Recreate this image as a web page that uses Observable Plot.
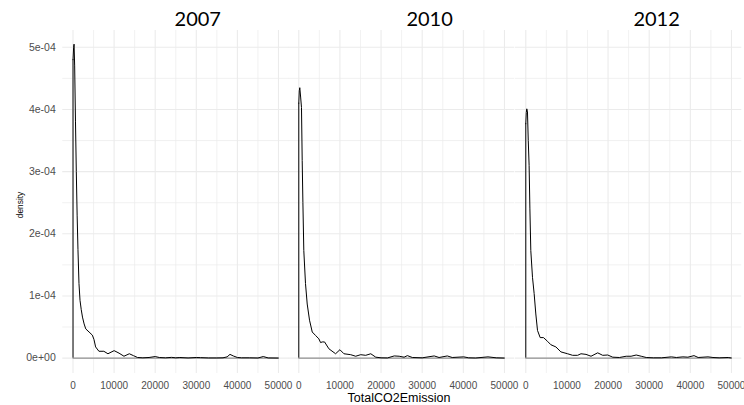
<!DOCTYPE html>
<html>
<head>
<meta charset="utf-8">
<script src="https://cdn.jsdelivr.net/npm/d3@7"></script>
<script src="https://cdn.jsdelivr.net/npm/@observablehq/plot@0.6"></script>
<style>
  body { margin: 0; background: #fff; }
  #wrap { position: relative; width: 744px; height: 405px; overflow: hidden; background: #fff; }
  #wrap svg { position: absolute; top: 0; }
  .atitle { position: absolute; font-family: "Liberation Sans", Arial, sans-serif; color: #000; line-height: 1; white-space: nowrap; }
</style>
</head>
<body>
<div id="wrap"></div>
<script>
// ---- data ----
const years = ["2007", "2010", "2012"];

const x2007 = [0, 150, 250, 400, 600, 800, 1000, 1200, 1450, 1700, 2000, 2300, 2700, 3100, 3900, 4700, 5100, 5500, 6300, 7500, 8500, 10000, 11200, 12400, 13700, 14700, 15700, 17000, 18500, 20000, 21000, 22500, 24000, 25000, 26000, 28000, 30000, 31000, 33000, 35000, 36500, 37500, 38200, 39000, 40000, 41000, 43000, 45000, 46300, 47500, 50000];
const d2007 = [4.8e-4, 5.0e-4, 5.05e-4, 4.7e-4, 3.8e-4, 3.0e-4, 2.3e-4, 1.75e-4, 1.2e-4, 0.93e-4, 0.78e-4, 0.66e-4, 0.55e-4, 0.47e-4, 0.42e-4, 0.37e-4, 0.30e-4, 0.18e-4, 0.11e-4, 0.11e-4, 0.07e-4, 0.12e-4, 0.08e-4, 0.03e-4, 0.07e-4, 0.04e-4, 0.01e-4, 0.005e-4, 0.01e-4, 0.025e-4, 0.01e-4, 0.005e-4, 0.012e-4, 0.005e-4, 0.01e-4, 0.003e-4, 0.01e-4, 0.008e-4, 0.003e-4, 0.003e-4, 0.005e-4, 0.02e-4, 0.06e-4, 0.035e-4, 0.01e-4, 0.005e-4, 0.005e-4, 0.002e-4, 0.025e-4, 0.003e-4, 0.001e-4];

const x2010 = [0, 120, 244, 450, 660, 830, 1000, 1220, 1630, 2050, 2610, 3270, 4070, 4880, 5300, 5700, 6270, 7320, 8950, 10000, 10980, 12620, 13830, 15050, 16270, 17500, 18710, 20000, 21550, 23200, 24400, 25600, 26400, 27600, 30000, 32920, 34100, 36100, 37300, 40100, 41300, 43000, 46000, 48000, 50000];
const d2010 = [4.1e-4, 4.3e-4, 4.35e-4, 4.2e-4, 4.03e-4, 3.18e-4, 2.5e-4, 1.73e-4, 1.2e-4, 0.87e-4, 0.61e-4, 0.42e-4, 0.365e-4, 0.31e-4, 0.25e-4, 0.26e-4, 0.26e-4, 0.15e-4, 0.07e-4, 0.135e-4, 0.07e-4, 0.055e-4, 0.03e-4, 0.055e-4, 0.045e-4, 0.07e-4, 0.015e-4, 0.005e-4, 0.003e-4, 0.035e-4, 0.03e-4, 0.015e-4, 0.04e-4, 0.01e-4, 0.005e-4, 0.035e-4, 0.01e-4, 0.035e-4, 0.01e-4, 0.02e-4, 0.005e-4, 0.002e-4, 0.02e-4, 0.005e-4, 0.001e-4];

const x2012 = [0, 120, 244, 410, 600, 810, 1000, 1220, 1630, 2030, 2440, 2850, 3500, 4310, 5290, 6100, 7320, 8540, 10160, 11380, 12600, 13420, 14640, 15860, 17480, 18700, 19920, 21140, 22760, 24400, 25600, 26840, 28060, 29280, 31000, 33000, 35380, 36600, 38200, 39400, 40900, 41900, 44300, 45500, 47000, 49200, 50000];
const d2012 = [3.77e-4, 3.95e-4, 4.01e-4, 3.96e-4, 3.5e-4, 3.1e-4, 2.4e-4, 1.73e-4, 1.30e-4, 1.04e-4, 0.71e-4, 0.445e-4, 0.33e-4, 0.33e-4, 0.27e-4, 0.215e-4, 0.18e-4, 0.10e-4, 0.07e-4, 0.045e-4, 0.045e-4, 0.07e-4, 0.06e-4, 0.03e-4, 0.085e-4, 0.045e-4, 0.05e-4, 0.015e-4, 0.01e-4, 0.03e-4, 0.03e-4, 0.05e-4, 0.03e-4, 0.01e-4, 0.005e-4, 0.005e-4, 0.02e-4, 0.01e-4, 0.02e-4, 0.015e-4, 0.04e-4, 0.01e-4, 0.02e-4, 0.01e-4, 0.005e-4, 0.01e-4, 0.002e-4];

const xTicks = [0, 10000, 20000, 30000, 40000, 50000];
const xMinor = [5000, 15000, 25000, 35000, 45000];
const yTicks = [0, 1e-4, 2e-4, 3e-4, 4e-4, 5e-4];
const yTickLabels = ["0e+00", "1e-04", "2e-04", "3e-04", "4e-04", "5e-04"];
const yMinor = [0.5e-4, 1.5e-4, 2.5e-4, 3.5e-4, 4.5e-4];
const xTitle = "TotalCO2Emission";
const yTitle = "density";

// ---- drawing ----
const series = [[x2007, d2007], [x2010, d2010], [x2012, d2012]];
const panelLeft = [0, 288.25, 514.5];
const panelWidth = [288.25, 226.25, 226.25];
const panelMarginLeft = [62.25, 0, 0];
const titleDx = [22, 28, 28];
const wrap = document.getElementById("wrap");
const grid = "#ebebeb";
const tickColor = "#4d4d4d";

series.forEach(([xs, ds], i) => {
  const data = xs.map((x, j) => ({x, d: ds[j]}));
  const marks = [
    Plot.gridX(xMinor, {stroke: grid, strokeOpacity: 1, strokeWidth: 0.7}),
    Plot.gridX(xTicks, {stroke: grid, strokeOpacity: 1, strokeWidth: 1.1}),
    Plot.gridY(yMinor, {stroke: grid, strokeOpacity: 1, strokeWidth: 0.7}),
    Plot.gridY(yTicks, {stroke: grid, strokeOpacity: 1, strokeWidth: 1.1}),
    Plot.axisX(xTicks, {tickSize: 0, tickPadding: 8, tickFormat: d => String(d), fontSize: 10, color: tickColor, label: null}),
    Plot.ruleY([0], {x1: xs[0], x2: xs[xs.length - 1], stroke: "#7a7a7a", strokeWidth: 1}),
    Plot.ruleX([data[0]], {x: "x", y1: 0, y2: "d", stroke: "black", strokeWidth: 1}),
    Plot.line(data, {x: "x", y: "d", stroke: "black", strokeWidth: 1}),
    Plot.text([years[i]], {text: d => d, frameAnchor: "top", lineAnchor: "middle", dy: -11.2, dx: titleDx[i], fontSize: 20, fontFamily: "Lato, 'Open Sans', sans-serif", fill: "black"})
  ];
  if (i === 0) {
    marks.push(Plot.axisY(yTicks, {tickSize: 0, tickPadding: 7, tickFormat: d => yTickLabels[yTicks.indexOf(d)], fontSize: 10.5, color: tickColor, label: null}));
  }
  const svg = Plot.plot({
    width: panelWidth[i],
    height: 405,
    marginLeft: panelMarginLeft[i],
    marginRight: 0,
    marginTop: 30,
    marginBottom: 32,
    style: {overflow: "visible", background: "transparent", fontFamily: "'Liberation Sans', Arial, sans-serif"},
    x: {domain: [-2500, 52500], label: null},
    y: {domain: [-0.2475e-4, 5.27e-4], label: null, axis: i === 0 ? undefined : null},
    marks
  });
  svg.style.left = panelLeft[i] + "px";
  svg.style.position = "absolute";
  svg.style.top = "0px";
  wrap.appendChild(svg);
});

const yt = document.createElement("div");
yt.className = "atitle";
yt.textContent = yTitle;
yt.style.fontSize = "8.4px";
yt.style.left = "19.7px";
yt.style.top = "205px";
yt.style.transform = "translate(-50%, -50%) rotate(-90deg)";
wrap.appendChild(yt);

const xt = document.createElement("div");
xt.className = "atitle";
xt.textContent = xTitle;
xt.style.fontSize = "12.5px";
xt.style.left = "399px";
xt.style.top = "392px";
xt.style.transform = "translateX(-50%)";
wrap.appendChild(xt);
</script>
</body>
</html>
